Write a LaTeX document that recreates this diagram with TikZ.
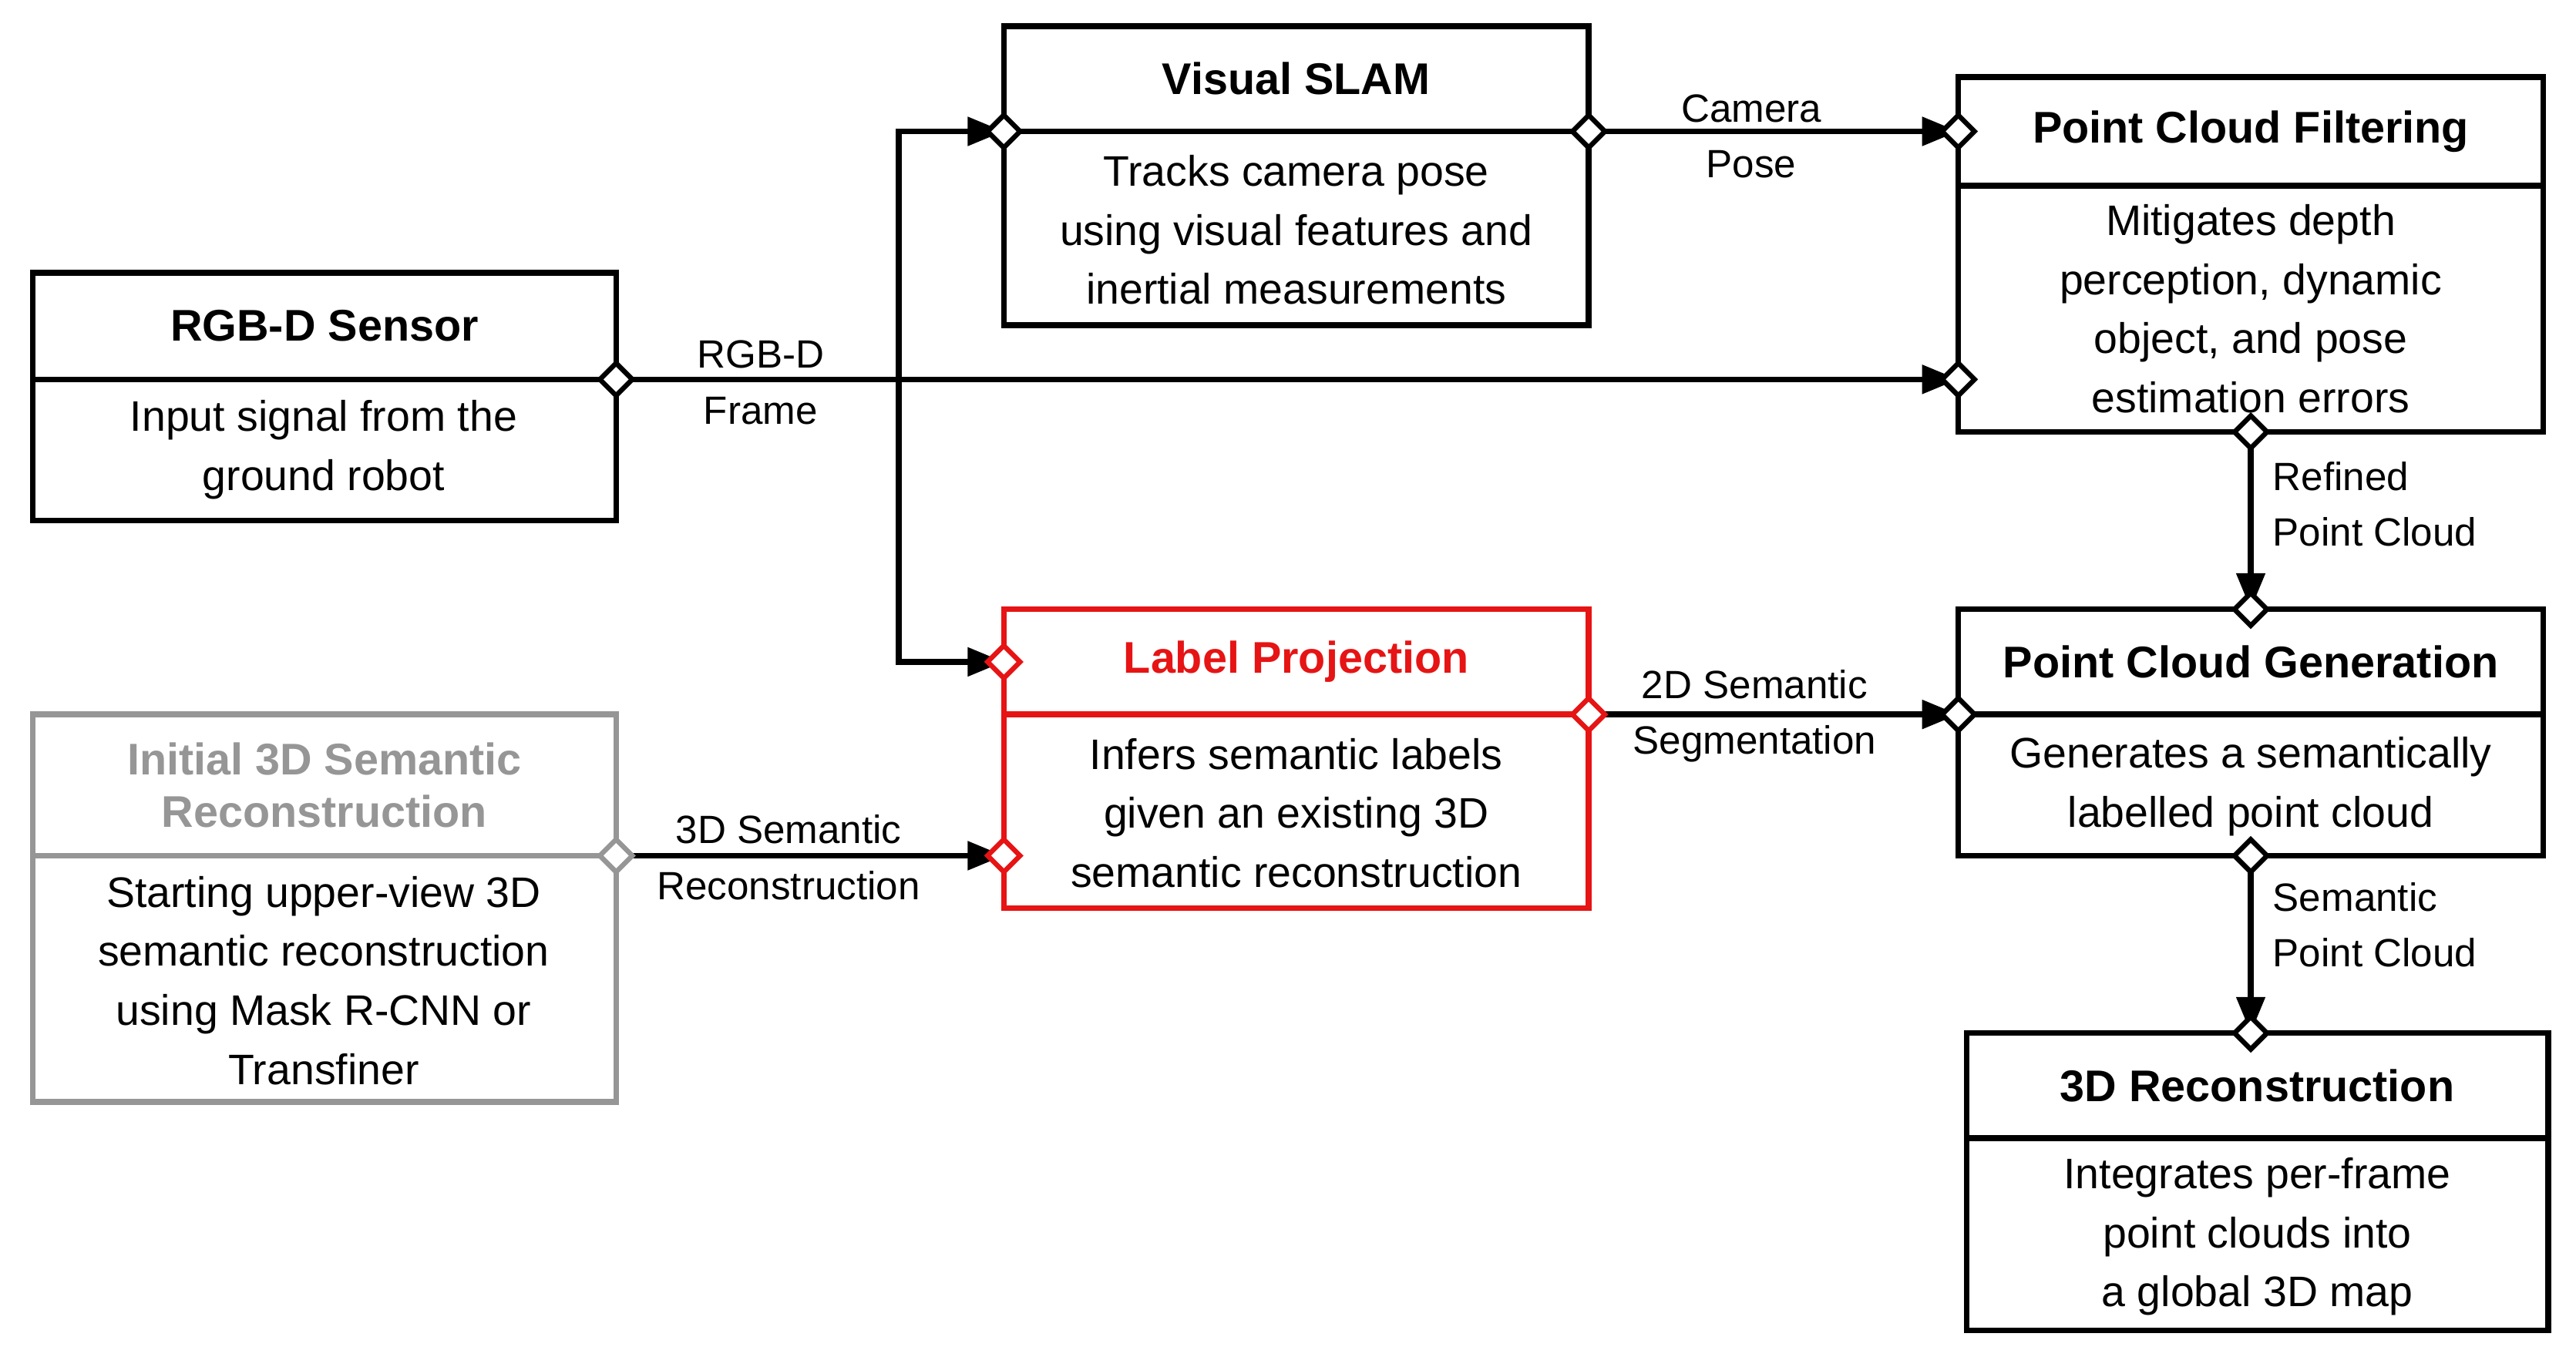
\documentclass[tikz,border=0pt]{standalone}
\usepackage{fontspec}
\setmainfont{Liberation Sans}
\usetikzlibrary{shapes.geometric,arrows.meta}
\definecolor{myred}{RGB}{230,20,20}
\definecolor{mygray}{RGB}{150,150,150}
\begin{document}
\begin{tikzpicture}[x=1pt,y=-1pt,
  box/.style={draw,line width=3.5pt,inner sep=0pt},
  ttl/.style={font=\fontsize{27}{32}\selectfont\bfseries,align=center},
  bdy/.style={font=\fontsize{26}{36}\selectfont,align=center},
  lbl/.style={font=\fontsize{24}{34}\selectfont,align=center},
  dm/.style={diamond,draw,fill=white,line width=3pt,minimum size=21pt,inner sep=0pt},
  con/.style={line width=3.5pt,-{Triangle[length=22pt,width=17pt]}},
  ln/.style={line width=3.5pt}]
\useasboundingbox (0,0) rectangle (1568,832);
% boxes: corners
\newcommand{\mybox}[8]{% name x1 y1 x2 y2 ydiv color title
  \draw[box,#6] (#2,#3) rectangle (#4,#5);
  \draw[box,#6] (#2,#7) -- (#4,#7);
  \node[ttl,text=#6] (#1t) at ({(#2+#4)/2},{(#3+#7)/2}) {#8};}
\mybox{rgb}{20}{166}{375}{317}{black}{231}{RGB-D Sensor}
\node[bdy] (rgbb) at (197,274) {Input signal from the\\ground robot};
\mybox{slam}{611}{16}{967}{198}{black}{80}{Visual SLAM}
\node[bdy] (slamb) at (789,140) {Tracks camera pose\\using visual features and\\inertial measurements};
\mybox{pcf}{1192}{47}{1548}{263}{black}{113}{Point Cloud Filtering}
\node[bdy] (pcfb) at (1370,188) {Mitigates depth\\perception, dynamic\\object, and pose\\estimation errors};
\mybox{lp}{611}{371}{967}{553}{myred}{435}{Label Projection}
\node[bdy] (lpb) at (789,495) {Infers semantic labels\\given an existing 3D\\semantic reconstruction};
\mybox{ini}{20}{435}{375}{671}{mygray}{521}{Initial 3D Semantic\\Reconstruction}
\node[bdy] (inib) at (197,597) {Starting upper-view 3D\\semantic reconstruction\\using Mask R-CNN or\\Transfiner};
\mybox{pcg}{1192}{371}{1548}{521}{black}{435}{Point Cloud Generation}
\node[bdy] (pcgb) at (1370,479) {Generates a semantically\\labelled point cloud};
\mybox{rec}{1197}{629}{1551}{810}{black}{693}{3D Reconstruction}
\node[bdy] (recb) at (1374,753) {Integrates per-frame\\point clouds into\\a global 3D map};
% ports
\coordinate (rgbo) at (375,231);
\coordinate (pcfi2) at (1192,231);
\coordinate (br) at (547,231);
\coordinate (slami) at (611,80);
\coordinate (slamo) at (967,80);
\coordinate (pcfi1) at (1192,80);
\coordinate (pcfo) at (1370,263);
\coordinate (pcgi1) at (1370,371);
\coordinate (lpi1) at (611,403);
\coordinate (lpo) at (967,435);
\coordinate (pcgi2) at (1192,435);
\coordinate (inio) at (375,521);
\coordinate (lpi2) at (611,521);
\coordinate (pcgo) at (1370,521);
\coordinate (reci) at (1370,629);
% connectors
\draw[con] (rgbo) -- (pcfi2);
\draw[con] (br) |- (slami);
\draw[con] (br) |- (lpi1);
\draw[con] (slamo) -- (pcfi1);
\draw[con] (pcfo) -- (pcgi1);
\draw[con] (lpo) -- (pcgi2);
\draw[con] (inio) -- (lpi2);
\draw[con] (pcgo) -- (reci);
% labels
\node[lbl] (l1) at (463,233) {RGB-D\\Frame};
\node[lbl] (l2) at (1066,83) {Camera\\Pose};
\node[lbl,align=left,anchor=west] (l3) at (1380,307) {Refined\\Point Cloud};
\node[lbl] (l4) at (1068,436) {2D Semantic\\Segmentation};
\node[lbl] (l5) at (480,522) {3D Semantic\\Reconstruction};
\node[lbl,align=left,anchor=west] (l6) at (1380,563) {Semantic\\Point Cloud};
% diamonds
\foreach \p in {rgbo,pcfi2,slami,slamo,pcfi1,pcfo,pcgi1,pcgi2,pcgo,reci}
  \node[dm] at (\p) {};
\foreach \p in {lpi1,lpo,lpi2} \node[dm,draw=myred] at (\p) {};
\node[dm,draw=mygray] at (inio) {};
\end{tikzpicture}
\end{document}
